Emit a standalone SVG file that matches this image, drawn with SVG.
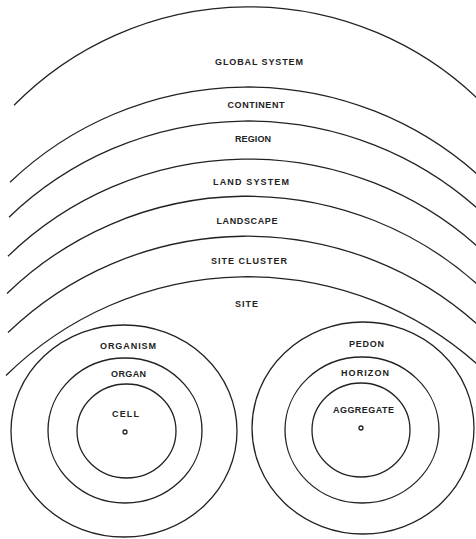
<svg xmlns="http://www.w3.org/2000/svg" width="476" height="539" viewBox="0 0 476 539">
<style>
.ln{fill:none;stroke:#222;stroke-width:1.3}
.lb{font-family:"Liberation Sans","DejaVu Sans",sans-serif;font-size:9px;font-weight:bold;fill:#222;text-anchor:middle}
</style>
<rect width="476" height="539" fill="#fff"/>
<g id="global-system">
<path class="ln" d="M14,105.3 A330,330 0 0 1 480,101"/>
<text class="lb" x="259" y="65" textLength="88" lengthAdjust="spacing">GLOBAL SYSTEM</text>
</g>
<g id="continent">
<path class="ln" d="M10,182.2 A345,345 0 0 1 480,176.7"/>
<text class="lb" x="256" y="108" textLength="57" lengthAdjust="spacing">CONTINENT</text>
</g>
<g id="region">
<path class="ln" d="M9,217.2 A345,345 0 0 1 480,210.7"/>
<text class="lb" x="253" y="142" textLength="36" lengthAdjust="spacing">REGION</text>
</g>
<g id="land-system">
<path class="ln" d="M8,256.2 A345,345 0 0 1 480,248.7"/>
<text class="lb" x="251" y="185" textLength="76" lengthAdjust="spacing">LAND SYSTEM</text>
</g>
<g id="landscape">
<path class="ln" d="M7,293.5 A345,345 0 0 1 480,286.7"/>
<text class="lb" x="247" y="224" textLength="61" lengthAdjust="spacing">LANDSCAPE</text>
</g>
<g id="site-cluster">
<path class="ln" d="M8,332.5 A345,345 0 0 1 480,326.7"/>
<text class="lb" x="249" y="264" textLength="76" lengthAdjust="spacing">SITE CLUSTER</text>
</g>
<g id="site">
<path class="ln" d="M6,375.5 A345,345 0 0 1 480,366.7"/>
<text class="lb" x="246.5" y="307" textLength="23" lengthAdjust="spacing">SITE</text>
</g>
<g id="organism">
<ellipse class="ln" cx="124" cy="431" rx="113" ry="106"/>
<text class="lb" x="128" y="349" textLength="56" lengthAdjust="spacing">ORGANISM</text>
</g>
<g id="organ">
<ellipse class="ln" cx="125" cy="430.5" rx="77" ry="72.5"/>
<text class="lb" x="128.5" y="377" textLength="35" lengthAdjust="spacing">ORGAN</text>
</g>
<g id="cell">
<ellipse class="ln" cx="126.5" cy="431" rx="49.5" ry="47"/>
<text class="lb" x="125.5" y="417" textLength="27" lengthAdjust="spacing">CELL</text>
<circle class="ln" cx="125" cy="432" r="2"/>
</g>
<g id="pedon">
<ellipse class="ln" cx="363" cy="428" rx="111" ry="106"/>
<text class="lb" x="366.5" y="347" textLength="35" lengthAdjust="spacing">PEDON</text>
</g>
<g id="horizon">
<ellipse class="ln" cx="362" cy="430" rx="77" ry="73"/>
<text class="lb" x="365" y="376" textLength="48" lengthAdjust="spacing">HORIZON</text>
</g>
<g id="aggregate">
<ellipse class="ln" cx="361" cy="430" rx="49" ry="47"/>
<text class="lb" x="363.5" y="413" textLength="61" lengthAdjust="spacing">AGGREGATE</text>
<circle class="ln" cx="361" cy="428" r="2"/>
</g>
<g id="connectors"/>
</svg>
